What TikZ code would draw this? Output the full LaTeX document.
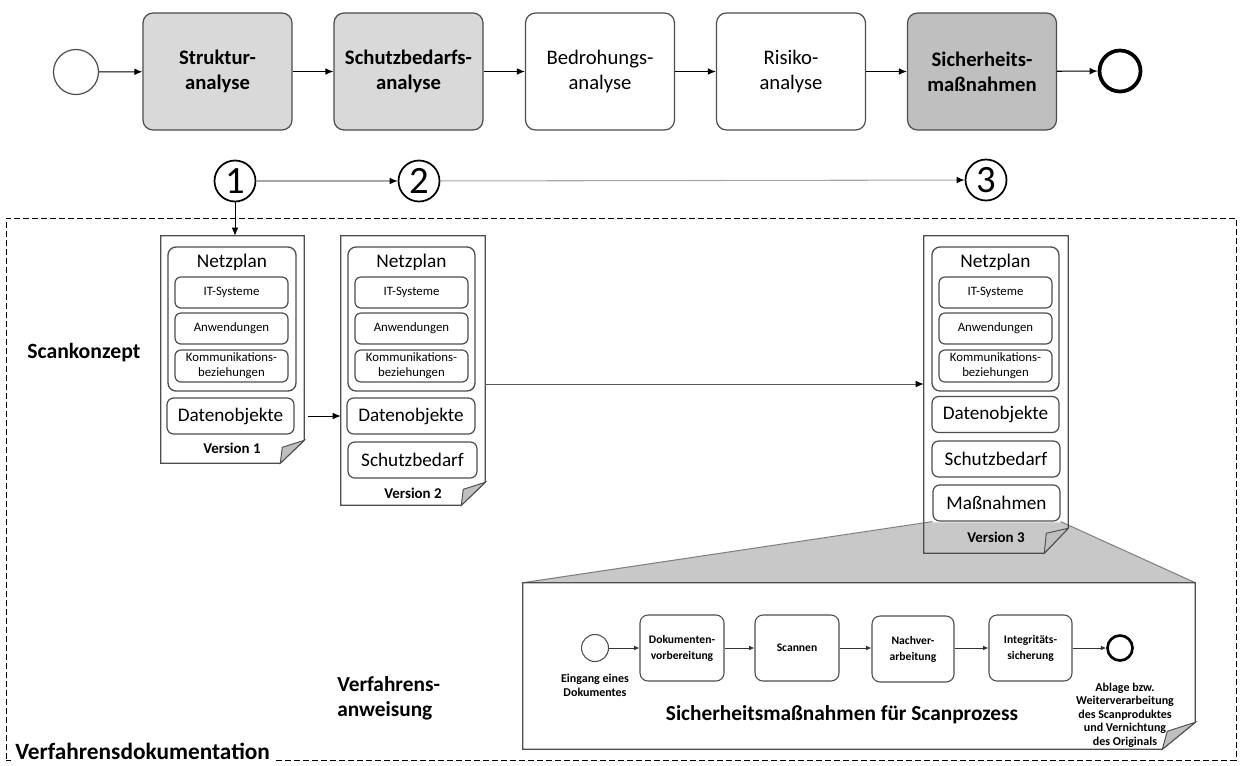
\documentclass[tikz,border=0pt]{standalone}
\usepackage{fontspec}
\setmainfont{Carlito}
\usetikzlibrary{arrows.meta}
\definecolor{boxA}{HTML}{D9D9D9}
\definecolor{boxB}{HTML}{BFBFBF}
\definecolor{edgec}{HTML}{4D4D4D}
\definecolor{foldgray}{HTML}{BFBFBF}
\definecolor{projgray}{HTML}{C8C8C8}
\definecolor{projline}{HTML}{808080}
\definecolor{conngray}{HTML}{A6A6A6}
\def\px{0.75pt}
\newcommand\docdraw[6]{%
  \path[draw=edgec, line width=0.9pt, fill=#6] (#1.north west) -- (#1.north east)
    -- ([yshift=#3*0.75pt]#1.south east) -- ([xshift=-#2*0.75pt]#1.south east)
    -- (#1.south west) -- cycle;
  \path[draw=edgec, line width=0.7pt, fill=foldgray] ([xshift=-#2*0.75pt]#1.south east)
    -- ([yshift=#3*0.75pt]#1.south east) -- ([xshift=-#4*0.75pt,yshift=#5*0.75pt]#1.south east) -- cycle;
}
\tikzset{
  topbox/.style={draw=edgec, line width=0.9pt, rounded corners=7.5pt, minimum width=149*\px,
    minimum height=117*\px, align=center, inner sep=0pt, font=\fontsize{15.5}{18.5}\selectfont},
  topbold/.style={font=\bfseries\fontsize{15.5}{18.5}\selectfont},
  arr/.style={draw=black, line width=0.8pt, -{Latex[length=6pt,width=5pt]}},
  garr/.style={draw=conngray, line width=0.8pt, -{Latex[length=6pt,width=5pt,color=black]}},
  sarr/.style={draw=black!80, line width=0.6pt, -{Latex[length=4pt,width=3.5pt]}},
  numc/.style={circle, draw=black, line width=1.3pt, minimum size=41*\px, inner sep=0pt,
    font=\fontsize{29}{29}\selectfont},
  docbody/.style={rectangle, inner sep=0pt},
  grp/.style={draw=edgec, line width=1pt, rounded corners=6pt, fill=white, minimum width=128*\px,
    minimum height=144*\px, inner sep=0pt},
  ibox/.style={draw=edgec, line width=0.9pt, rounded corners=4.5pt, fill=white, minimum width=113*\px,
    minimum height=31*\px, inner sep=0pt, align=center, font=\fontsize{9.6}{11.25}\selectfont},
  bbox/.style={draw=edgec, line width=0.9pt, rounded corners=5pt, fill=white, minimum width=127*\px,
    minimum height=36*\px, inner sep=0pt, font=\fontsize{14.4}{17}\selectfont},
  ntitle/.style={inner sep=0pt, font=\fontsize{14.5}{17}\selectfont},
  vlab/.style={inner sep=0pt, font=\bfseries\fontsize{11.2}{13}\selectfont},
  pbox/.style={draw=edgec, line width=0.8pt, rounded corners=6pt, fill=white, minimum width=84*\px,
    minimum height=66*\px, inner sep=0pt, align=center, font=\bfseries\fontsize{8.7}{12}\selectfont},
  biglab/.style={inner sep=0pt, font=\bfseries\fontsize{16.3}{19}\selectfont}
}
\begin{document}
\begin{tikzpicture}[x=0.75pt,y=-0.75pt]
\useasboundingbox (0,0) rectangle (1241,765);

% dashed frame
\node[draw=black, line width=0.75pt, dash pattern=on 4.5pt off 2.25pt, minimum width=1230*\px,
  minimum height=542*\px, inner sep=0pt] (frame) at (621,489) {};
\node[anchor=west, fill=white, inner xsep=3pt, inner ysep=1pt, font=\bfseries\fontsize{17.5}{20}\selectfont] (ldoc) at (11,751) {Verfahrensdokumentation};

% top process
\node[circle, draw=edgec, line width=0.9pt, minimum size=45*\px, inner sep=0pt] (start) at (76,72) {};
\node[topbox, topbold, fill=boxA] (b1) at (217.5,71.5) {Struktur-\\analyse};
\node[topbox, topbold, fill=boxA] (b2) at (408.5,71.5) {Schutzbedarfs-\\analyse};
\node[topbox, fill=white] (b3) at (600,71.5) {Bedrohungs-\\analyse};
\node[topbox, fill=white] (b4) at (791,71.5) {Risiko-\\analyse};
\node[topbox, topbold, fill=boxB] (b5) at (982,71.5) {Sicherheits-\\maßnahmen};
\node[circle, draw=black, line width=2.8pt, minimum size=41*\px, inner sep=0pt] (end) at (1120,71) {};
\draw[arr] (start) -- (b1);
\draw[arr] (b1) -- (b2);
\draw[arr] (b2) -- (b3);
\draw[arr] (b3) -- (b4);
\draw[arr] (b4) -- (b5);
\draw[arr] (b5) -- (end);

% circled numbers
\node[numc] (n1) at (235,181) {1};
\node[numc] (n2) at (419,181) {2};
\node[numc] (n3) at (986,180) {3};
\draw[garr] (n1) -- (n2);
\draw[garr] (n2) -- (n3);

% document 1
\node[docbody, minimum width=143*\px, minimum height=227*\px] (doc1) at (232.5,349.5) {};
\docdraw{doc1}{24}{23}{22}{16}{white}
\node[grp] (net1) at (232,319) {};
\node[ntitle] (nt1) at (232,262) {Netzplan};
\node[ibox] (it1) at (231.5,292.5) {IT-Systeme};
\node[ibox] (an1) at (231.5,328.5) {Anwendungen};
\node[ibox, minimum height=32*\px] (ko1) at (231.5,366) {Kommunikations-\\beziehungen};
\node[bbox] (da1) at (230.5,416) {Datenobjekte};
\node[vlab] (v1) at (232,448) {Version 1};
\draw[black, line width=0.7pt, -{Latex[length=6pt,width=5pt]}] (n1.south) -- (n1.south |- doc1.north);

% document 2
\node[docbody, minimum width=144*\px, minimum height=269*\px] (doc2) at (413,370.5) {};
\docdraw{doc2}{24}{23}{22}{16}{white}
\node[grp, minimum width=127*\px] (net2) at (411.5,319) {};
\node[ntitle] (nt2) at (411.5,262) {Netzplan};
\node[ibox] (it2) at (411.5,292.5) {IT-Systeme};
\node[ibox] (an2) at (411.5,328.5) {Anwendungen};
\node[ibox, minimum height=32*\px] (ko2) at (411.5,366) {Kommunikations-\\beziehungen};
\node[bbox, minimum width=128*\px] (da2) at (411,416) {Datenobjekte};
\node[bbox, minimum width=129*\px] (sb2) at (412.5,460) {Schutzbedarf};
\node[vlab] (v2) at (413,493) {Version 2};
\draw[arr, line width=0.7pt] ([xshift=3pt]doc1.east |- da1.east) -- (doc2.west |- da1.east);

% document 3
\node[docbody, minimum width=144*\px, minimum height=317*\px] (doc3) at (996,394.5) {};
\fill[white] (doc3.north west) rectangle (doc3.south east);
\node[grp, minimum width=127*\px] (net3) at (995.5,319) {};
\node[ntitle] (nt3) at (995.5,262) {Netzplan};
\node[ibox] (it3) at (995.5,292.5) {IT-Systeme};
\node[ibox] (an3) at (995.5,328.5) {Anwendungen};
\node[ibox, minimum height=32*\px] (ko3) at (995.5,366) {Kommunikations-\\beziehungen};
\node[bbox] (da3) at (995.5,414.5) {Datenobjekte};
\node[bbox, minimum width=128*\px] (sb3) at (996,459) {Schutzbedarf};
\node[bbox] (ms3) at (996.5,503) {Maßnahmen};
\coordinate (l23) at (485,384);
\draw[draw=black!65, line width=0.7pt, -{Latex[length=6pt,width=5pt,color=black]}] (l23) -- (doc3.west |- l23);

% projection and process document
\node[docbody, minimum width=672*\px, minimum height=166*\px] (proc) at (859,666) {};
\fill[projgray] ([yshift=-0.5pt]ms3.south west) -- ([yshift=-0.5pt]ms3.south east) -- (proc.north east) -- (proc.north west) -- cycle;
\draw[projline, line width=0.8pt] (ms3.south west) -- (proc.north west);
\draw[projline, line width=0.8pt] (ms3.south east) -- (proc.north east);
\docdraw{doc3}{24}{25}{22}{20}{none}
\node[vlab] (v3) at (996,537) {Version 3};
\docdraw{proc}{33}{27}{28}{18}{white}

% scan process
\node[circle, draw=edgec, line width=0.8pt, minimum size=27*\px, inner sep=0pt] (ps) at (595,648) {};
\node[pbox] (p1) at (682,648) {Dokumenten-\\vorbereitung};
\node[pbox] (p2) at (797,648) {Scannen};
\node[pbox, minimum width=82*\px] (p3) at (913,649) {Nachver-\\arbeitung};
\node[pbox, minimum width=83*\px] (p4) at (1030.5,648) {Integritäts-\\sicherung};
\node[circle, draw=black, line width=2pt, minimum size=25*\px, inner sep=0pt] (pe) at (1120,648) {};
\draw[sarr] (ps) -- (p1);
\draw[sarr] (p1) -- (p2);
\draw[sarr] (p2) -- (p3.west |- p2);
\draw[sarr] (p3.east |- p4) -- (p4);
\draw[sarr] (p4) -- (pe);
\node[align=center, inner sep=0pt, font=\bfseries\fontsize{9}{10.5}\selectfont] (pslab) at (595,685) {Eingang eines\\Dokumentes};
\node[align=center, inner sep=0pt, font=\bfseries\fontsize{9}{10.1}\selectfont] (pelab) at (1125,715) {Ablage bzw.\\Weiterverarbeitung\\des Scanproduktes\\und Vernichtung\\des Originals};
\node[inner sep=0pt, font=\bfseries\fontsize{16}{19}\selectfont] (ptitle) at (842,715) {Sicherheitsmaßnahmen für Scanprozess};

% side labels
\node[biglab, anchor=west] (lscan) at (27,353) {Scankonzept};
\node[biglab, anchor=west, align=left, font=\bfseries\fontsize{16}{19}\selectfont] (lverf) at (337,698) {Verfahrens-\\anweisung};
\end{tikzpicture}
\end{document}
